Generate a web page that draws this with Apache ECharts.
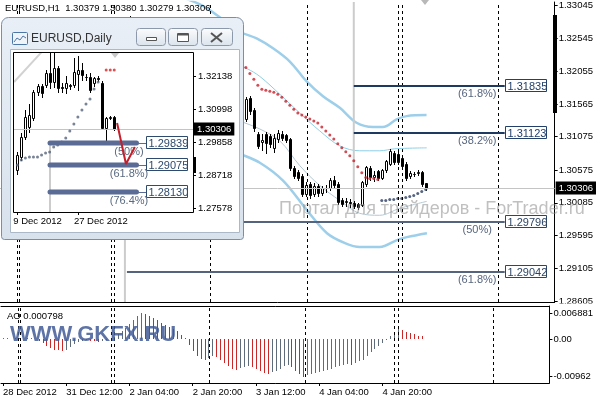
<!DOCTYPE html>
<html><head><meta charset="utf-8">
<script src="https://cdn.jsdelivr.net/npm/echarts@6/dist/echarts.min.js"></script>
<style>html,body{margin:0;padding:0;background:#fff}#c{width:596px;height:400px}</style>
</head><body><div id="c"></div>
<script>
// ===== DATA =====
const symbolH1 = 'EURUSD,H1';
const symbolD1 = 'EURUSD,Daily';
// H1 candles [open, close, low, high], bar 0 = 28 Dec 2012 20:00
const h1Candles = [
[1.3218,1.3221,1.3214,1.3225],[1.3221,1.3217,1.3212,1.3224],[1.3217,1.3219,1.3213,1.3223],[1.3219,1.3222,1.3215,1.3227],
[1.3222,1.3216,1.3211,1.3225],[1.3216,1.3220,1.3212,1.3224],[1.3220,1.3223,1.3216,1.3228],[1.3223,1.3219,1.3214,1.3226],
[1.3219,1.3212,1.3207,1.3222],[1.3212,1.3205,1.3200,1.3215],[1.3205,1.3199,1.3194,1.3208],[1.3199,1.3202,1.3193,1.3206],
[1.3202,1.3196,1.3191,1.3205],[1.3196,1.3193,1.3188,1.3200],[1.3193,1.3198,1.3189,1.3202],[1.3198,1.3195,1.3190,1.3201],
[1.3195,1.3203,1.3192,1.3207],[1.3203,1.3210,1.3200,1.3214],[1.3210,1.3213,1.3206,1.3217],[1.3213,1.3209,1.3205,1.3216],
[1.3209,1.3214,1.3206,1.3218],[1.3214,1.3211,1.3207,1.3217],[1.3211,1.3206,1.3202,1.3214],[1.3206,1.3209,1.3203,1.3212],
[1.3209,1.3204,1.3199,1.3211],[1.3204,1.3212,1.3201,1.3215],[1.3212,1.3218,1.3209,1.3221],[1.3218,1.3224,1.3215,1.3228],
[1.3224,1.3236,1.3221,1.3240],[1.3236,1.3248,1.3232,1.3252],[1.3248,1.3262,1.3245,1.3268],[1.3262,1.3270,1.3256,1.3286],
[1.3270,1.3281,1.3266,1.3288],[1.3281,1.3274,1.3268,1.3284],[1.3274,1.3279,1.3270,1.3283],[1.3279,1.3272,1.3266,1.3285],
[1.3272,1.3278,1.3268,1.3287],[1.3278,1.3266,1.3260,1.3281],[1.3266,1.3259,1.3252,1.3270],[1.3259,1.3262,1.3254,1.3267],
[1.3262,1.3250,1.3245,1.3265],[1.3250,1.3243,1.3238,1.3254],[1.3243,1.3246,1.3237,1.3250],[1.3246,1.3233,1.3228,1.3249],
[1.3233,1.3225,1.3219,1.3237],[1.3225,1.3229,1.3220,1.3232],[1.3229,1.3214,1.3210,1.3231],[1.3214,1.3202,1.3197,1.3218],
[1.3202,1.3196,1.3190,1.3206],[1.3196,1.3188,1.3183,1.3199],[1.3188,1.3191,1.3182,1.3195],[1.3191,1.3180,1.3175,1.3194],
[1.3180,1.3172,1.3166,1.3184],[1.3172,1.3176,1.3168,1.3180],[1.3176,1.3163,1.3158,1.3178],[1.3163,1.3155,1.3150,1.3167],
[1.3155,1.3158,1.3149,1.3162],[1.3158,1.3146,1.3141,1.3160],[1.3146,1.3139,1.3134,1.3150],[1.3139,1.3142,1.3133,1.3146],
[1.3142,1.3134,1.3129,1.3145],[1.3134,1.3164,1.3131,1.3167],[1.3165,1.3146,1.3142,1.3168],[1.3148,1.3121,1.3116,1.3151],
[1.3112,1.3094,1.3090,1.3115],[1.3099,1.3102,1.3087,1.3112],[1.3111,1.3098,1.3083,1.3115],[1.3108,1.3096,1.3092,1.3112],
[1.3091,1.3105,1.3085,1.3112],[1.3104,1.3113,1.3100,1.3118],[1.3112,1.3106,1.3102,1.3116],[1.3110,1.3103,1.3099,1.3112],
[1.3104,1.3061,1.3058,1.3106],[1.3061,1.3049,1.3045,1.3064],[1.3055,1.3046,1.3042,1.3058],[1.3049,1.3022,1.3018,1.3052],
[1.3022,1.3035,1.3019,1.3040],[1.3036,1.3020,1.3016,1.3040],[1.3022,1.3034,1.3018,1.3038],[1.3034,1.3023,1.3019,1.3037],
[1.3023,1.3030,1.3020,1.3033],[1.3030,1.3031,1.3025,1.3035],[1.3031,1.3042,1.3028,1.3045],[1.3042,1.3035,1.3031,1.3049],
[1.3037,1.3010,1.3006,1.3040],[1.3013,1.3006,1.3003,1.3016],[1.3009,1.3011,1.3004,1.3016],[1.3010,1.3008,1.3002,1.3014],
[1.3008,1.3003,1.3000,1.3011],[1.3006,1.3002,1.2999,1.3008],[1.3005,1.3039,1.3003,1.3041],[1.3037,1.3062,1.3034,1.3063],
[1.3060,1.3047,1.3043,1.3063],[1.3047,1.3050,1.3041,1.3056],[1.3056,1.3046,1.3042,1.3058],[1.3046,1.3057,1.3044,1.3059],
[1.3057,1.3071,1.3055,1.3073],[1.3067,1.3086,1.3065,1.3089],[1.3083,1.3069,1.3066,1.3086],[1.3081,1.3069,1.3066,1.3084],
[1.3076,1.3064,1.3060,1.3079],[1.3067,1.3046,1.3043,1.3069],[1.3049,1.3053,1.3046,1.3056],[1.3052,1.3052,1.3049,1.3054],
[1.3053,1.3055,1.3050,1.3058],[1.3054,1.3037,1.3034,1.3056],[1.30379,1.30306,1.30279,1.30380]
];
// Awesome Oscillator per H1 bar
const aoValues = [
0.0003,0.0004,0.0002,0.0003,0.0004,0.0002,0.0003,0.0004,0.0001,-0.0004,
-0.0010,-0.0017,-0.0022,-0.0026,-0.0028,-0.0029,-0.0026,-0.0019,-0.0012,-0.0006,
-0.0003,-0.0001,-0.0003,-0.0005,-0.0007,-0.0004,-0.0001,0.0002,0.0006,0.0013,
0.0021,0.0030,0.0040,0.0050,0.0060,0.006881,0.0066,0.0062,0.0057,0.0050,
0.0042,0.0037,0.0032,0.0027,0.0021,0.0012,0.0003,-0.0015,-0.0031,-0.0042,
-0.0050,-0.0054,-0.0049,-0.0043,-0.0046,-0.0054,-0.0062,-0.0070,-0.0076,-0.0079,
-0.0075,-0.0071,-0.0068,-0.0072,-0.0076,-0.0081,-0.0087,-0.0090,-0.0085,-0.0081,
-0.0076,-0.0069,-0.0066,-0.0071,-0.0081,-0.0089,-0.00962,-0.0093,-0.0090,-0.0087,
-0.0085,-0.0082,-0.0080,-0.0076,-0.0071,-0.0068,-0.0065,-0.0063,-0.0066,-0.0061,
-0.0057,-0.0052,-0.0043,-0.0033,-0.0024,-0.0016,-0.0009,-0.0002,0.0008,0.0018,
0.0026,0.0024,0.0020,0.0016,0.0013,0.0010,0.000798
];
// Bands [bar, price]
const bandUpperOuter = [[44,1.3318],[50,1.3304],[55,1.3284],[59.5,1.32645],[63.7,1.32545],[67.8,1.32397],[72,1.32199],[76.2,1.31902],[80.3,1.31679],[84.5,1.31506],[88.7,1.31283],[92.8,1.31219],[95.3,1.31219],[98.7,1.31333],[101.2,1.31382],[106.2,1.31397]];
const bandLowerOuter = [[58,1.3085],[59.5,1.30818],[64.5,1.30685],[70.3,1.30417],[76.3,1.29972],[81.3,1.29630],[85.8,1.29482],[89.5,1.29423],[94.5,1.29423],[98.8,1.29526],[101.3,1.29571],[106.3,1.29630]];
const bandUpperInner = [[58,1.3218],[61.25,1.32095],[64.5,1.31976],[69.5,1.31709],[74.5,1.31427],[79.5,1.31160],[84.5,1.30937],[89.5,1.30863],[94.5,1.30863],[98.25,1.30893],[106.25,1.30907]];
const bandLowerInner = [[58,1.3134],[59.5,1.31308],[64.5,1.31189],[69.5,1.31011],[74.5,1.30640],[79.5,1.30343],[84.5,1.30120],[89.5,1.29927],[94.5,1.29898],[99.5,1.30002],[106.25,1.30106]];
// Parabolic SAR
const sarRedStart = 61;
const sarRed = [1.32110,1.32021,1.31932,1.31843,1.31783,1.31769,1.31754,1.31739,1.31709,1.31665,1.31605,1.31546,1.31486,1.31427,1.31397,1.31368,1.31338,1.31308,1.31279,1.31219,1.31160,1.31100,1.31041,1.30967,1.30907,1.30848,1.30789,1.30714,1.30625,1.30536,1.30462,1.30447,1.30447,1.30432];
const sarBlueStart = 95;
const sarBlue = [1.30120,1.30120,1.30135,1.30135,1.30150,1.30150,1.30165,1.30180,1.30195,1.30224,1.30254,1.30284];
// Fibonacci levels (main)
const fibALevels = [1.31835, 1.31123];
const fibAPct = ['(61.8%)', '(38.2%)'];
const fibAStart = 88;
const fibBLevels = [1.29796, 1.29042];
const fibBPct = ['(50%)', '(61.8%)'];
const fibBStart = 31.25;
const fibEnd = 125.75;
const anchorLines = [[[88,1.2999],[88,1.3309]], [[30.75,1.2860],[30.75,1.3000]]];
// Period separators (bar positions)
const sepBars = [3.875, 4.375, 27.375, 28.125, 52.125, 76.375, 99.125, 100.125, 124.125];
// Axis ticks
const priceTicks = [1.33045,1.32545,1.32055,1.31565,1.31075,1.30575,1.30085,1.29595,1.29105,1.28605];
const aoTicks = [0.006881, 0, -0.00962];
const aoTickLabels = ['0.006881', '0.00', '-0.00962'];
const timeTickBars = [0, 16, 32, 48, 64, 80, 96];
const timeTickLabels = ['28 Dec 2012','31 Dec 12:00','2 Jan 04:00','2 Jan 20:00','3 Jan 12:00','4 Jan 04:00','4 Jan 20:00'];

// Daily inset: [open, close, low, high], day 0 = 9 Dec 2012
const d1Candles = [
[1.2889,1.2941,1.2875,1.2951],[1.2934,1.3003,1.2924,1.3017],[1.3003,1.3072,1.2996,1.3096],[1.3038,1.3079,1.3020,1.3117],
[1.3069,1.3158,1.3062,1.3165],[1.3158,1.3179,1.3148,1.3186],[1.3179,1.3155,1.3141,1.3186],[1.3183,1.3224,1.3176,1.3235],
[1.3224,1.3193,1.3172,1.3308],[1.3193,1.3241,1.3175,1.3300],[1.3241,1.3172,1.3160,1.3250],[1.3176,1.3172,1.3160,1.3190],
[1.3172,1.3190,1.3155,1.3215],[1.3181,1.3179,1.3170,1.3186],[1.3183,1.3228,1.3175,1.3276],[1.3221,1.3235,1.3165,1.3283],
[1.3234,1.3217,1.3200,1.3260],[1.3211,1.3209,1.3200,1.3220],[1.3210,1.3165,1.3160,1.3225],[1.3190,1.3207,1.3180,1.3210],
[1.3207,1.3204,1.3195,1.3215],[1.3190,1.3034,1.3030,1.3195],[1.3034,1.3069,1.2986,1.3072],[1.3069,1.3072,1.3065,1.3076],
[1.3072,1.30306,1.3027,1.3075]
];
const d1Sar = [1.29064,1.29236,1.29305,1.29340,1.29340,1.29340,1.29409,1.29478,1.29513,1.29685,1.29754,1.29858,1.29996,1.30238,1.30480,1.30721,1.30963,1.31171,1.31343,1.31689,1.31930];
const d1SarRedStart = 22;
const d1SarRed = [1.32345,1.32345,1.32345];
const d1FibLevels = [1.29839, 1.29075, 1.28130];
const d1FibPct = ['(50%)', '(61.8%)', '(76.4%)'];
const d1FibStart = 8.1, d1FibEnd = 29.5;
const d1Anchor = [[8.1,1.2740],[8.1,1.29858]];
const d1Trend = [[-0.8,1.3193],[6.0,1.3296]];
const d1Zigzag = [[24.7,1.30514],[26.9,1.29098],[29.1,1.29685]];
const d1SepDays = [19.1];
const d1PriceTicks = [1.32138,1.30998,1.29858,1.28718,1.27578];
const d1TickDays = [0, 15];
const d1TickLabels = ['9 Dec 2012', '27 Dec 2012'];

// ===== CHART =====
const FONT = 'Liberation Sans';
const RED = '#cc2626', GRAY = '#5e6b7b';
const lastH1 = h1Candles[h1Candles.length - 1];
const lastClose = lastH1[1];
const MAIN_W = 555, BAR_PX = 4;
const mainXMin = -0.5, mainXMax = -0.5 + MAIN_W / BAR_PX;
const D1_PX = 4.04, D1_LEFT = 14, D1_W = 179, D1_FIRST = 17.3;
const d1XMin = -(D1_FIRST - D1_LEFT) / D1_PX, d1XMax = d1XMin + D1_W / D1_PX;

function candleRenderer(params, api) {
  const i = api.value(0), o = api.value(1), c = api.value(2), l = api.value(3), h = api.value(4);
  const pO = api.coord([i, o]), pC = api.coord([i, c]), pL = api.coord([i, l]), pH = api.coord([i, h]);
  const x = Math.round(pO[0]) + 0.5;
  const top = Math.round(Math.min(pO[1], pC[1])) + 0.5;
  const bot = Math.round(Math.max(pO[1], pC[1])) + 0.5;
  const up = c >= o;
  return {type: 'group', children: [
    {type: 'line', shape: {x1: x, y1: Math.round(pH[1]), x2: x, y2: Math.round(pL[1]) + 1}, style: {stroke: '#000', lineWidth: 1}},
    {type: 'rect', shape: {x: x - 1, y: top, width: 2, height: Math.max(0, bot - top)}, style: {fill: up ? '#fff' : '#000', stroke: '#000', lineWidth: 1}}
  ]};
}
function aoRenderer(params, api) {
  const i = api.value(0), v = api.value(1);
  const k = params.dataIndex;
  const prev = k > 0 ? aoValues[k - 1] : v;
  const p0 = api.coord([i, 0]), p1 = api.coord([i, v]);
  const x = Math.round(p0[0]) + 0.5;
  return {type: 'line', shape: {x1: x, y1: Math.round(p0[1]), x2: x, y2: Math.round(p1[1])},
    style: {stroke: v < prev ? RED : GRAY, lineWidth: 1}};
}
function fibRenderer(cfg) {
  return function (params, api) {
    const lvl = api.value(1);
    const a = api.coord([api.value(0), lvl]);
    const b = api.coord([cfg.end, lvl]);
    const y = Math.round(a[1]);
    const bx = Math.round(b[0]) + cfg.boxGap;
    const ch = [{type: 'line', shape: {x1: a[0], y1: y, x2: b[0], y2: y},
      style: {stroke: cfg.lineColor, lineWidth: cfg.lineWidth, lineCap: cfg.cap || 'butt'}}];
    if (cfg.boxGap > 2) ch.push({type: 'line', shape: {x1: b[0], y1: y + 0.5, x2: bx, y2: y + 0.5}, style: {stroke: cfg.lineColor, lineWidth: 1}});
    ch.push({type: 'text', x: b[0] + cfg.pctDx, y: y + cfg.pctDy, z2: 5,
      style: {text: cfg.pct[params.dataIndex], font: '11px ' + FONT, fill: cfg.pctColor,
        align: 'center', verticalAlign: 'middle', textAlign: 'center', textVerticalAlign: 'middle'}});
    ch.push({type: 'rect', shape: {x: bx + 0.5, y: y - 6.5, width: 41, height: 12}, style: {fill: '#fff', stroke: cfg.boxColor, lineWidth: 1}});
    ch.push({type: 'text', x: bx + 2.5, y: y + 0.5, z2: 6,
      style: {text: lvl.toFixed(5), font: '11px ' + FONT, fill: cfg.boxColor, verticalAlign: 'middle', textVerticalAlign: 'middle'}});
    return {type: 'group', children: ch};
  };
}
const sepLine = {type: [3, 3], color: '#000', width: 1};
function lineS(data, color, width, xi, yi, z, smooth) {
  return {type: 'line', xAxisIndex: xi, yAxisIndex: yi, data: data, smooth: smooth || false, symbol: 'none',
    silent: true, z: z, lineStyle: {color: color, width: width}};
}
function bidLine(price) {
  return {yAxis: price, lineStyle: {color: '#c4c4c4', width: 1, type: 'solid'},
    label: {show: true, position: 'end', distance: 1, formatter: price.toFixed(5), color: '#fff',
      backgroundColor: '#000', padding: [2, 3, 1, 3], fontSize: 9.5, fontFamily: FONT}};
}

const series = [
  lineS(bandUpperOuter, '#9dcfea', 2.5, 0, 0, 2, 0.35),
  lineS(bandLowerOuter, '#9dcfea', 2.5, 0, 0, 2, 0.35),
  lineS(bandUpperInner, '#8ccfe6', 1, 0, 0, 2, 0.35),
  lineS(bandLowerInner, '#b3c7d2', 1, 0, 0, 2, 0.35),
  lineS(anchorLines[0], '#cccccc', 2, 0, 0, 2),
  lineS(anchorLines[1], '#cccccc', 2, 0, 0, 2),
  {type: 'custom', name: 'H1', xAxisIndex: 0, yAxisIndex: 0, z: 3, silent: true,
    data: h1Candles.map((r, i) => [i, r[0], r[1], r[2], r[3]]),
    encode: {x: 0, y: [1, 2, 3, 4]}, renderItem: candleRenderer,
    markLine: {silent: true, symbol: ['none', 'none'], animation: false, precision: 6,
      data: [bidLine(lastClose)].concat(sepBars.map(b => ({xAxis: b, lineStyle: sepLine, label: {show: false}})))}},
  {type: 'scatter', xAxisIndex: 0, yAxisIndex: 0, z: 4, silent: true, symbol: 'circle', symbolSize: 3,
    itemStyle: {color: '#c8202a'}, data: sarRed.map((p, k) => [sarRedStart + k, p])},
  {type: 'scatter', xAxisIndex: 0, yAxisIndex: 0, z: 4, silent: true, symbol: 'circle', symbolSize: 3,
    itemStyle: {color: '#2c3f66'}, data: sarBlue.map((p, k) => [sarBlueStart + k, p])},
  {type: 'custom', xAxisIndex: 0, yAxisIndex: 0, z: 5, silent: true,
    data: fibALevels.map(v => [fibAStart, v]), encode: {x: 0, y: 1},
    renderItem: fibRenderer({end: fibEnd, pct: fibAPct, lineColor: '#1f3a60', lineWidth: 2, pctColor: '#56657e',
      boxColor: '#22406a', pctDx: -27.5, pctDy: 8, boxGap: 0})},
  {type: 'custom', xAxisIndex: 0, yAxisIndex: 0, z: 5, silent: true,
    data: fibBLevels.map(v => [fibBStart, v]), encode: {x: 0, y: 1},
    renderItem: fibRenderer({end: fibEnd, pct: fibBPct, lineColor: '#55647e', lineWidth: 2, pctColor: '#56657e',
      boxColor: '#2f4564', pctDx: -27.5, pctDy: 8, boxGap: 0})},
  // AO
  {type: 'custom', xAxisIndex: 1, yAxisIndex: 1, z: 3, silent: true,
    data: aoValues.map((v, i) => [i, v]), encode: {x: 0, y: 1}, renderItem: aoRenderer,
    markLine: {silent: true, symbol: ['none', 'none'], animation: false, precision: 6,
      data: sepBars.map(b => ({xAxis: b, lineStyle: sepLine, label: {show: false}}))}},
  // Daily inset
  lineS(d1Anchor, '#cccccc', 2, 2, 2, 60),
  lineS(d1Trend, '#d2d2d2', 2, 2, 2, 60),
  {type: 'custom', name: 'D1', xAxisIndex: 2, yAxisIndex: 2, z: 61, silent: true, clip: true,
    data: d1Candles.map((r, i) => [i, r[0], r[1], r[2], r[3]]),
    encode: {x: 0, y: [1, 2, 3, 4]}, renderItem: candleRenderer,
    markLine: {silent: true, symbol: ['none', 'none'], animation: false, precision: 6,
      data: d1SepDays.map(d => ({xAxis: d, lineStyle: sepLine, label: {show: false}}))}},
  {type: 'scatter', xAxisIndex: 2, yAxisIndex: 2, z: 62, silent: true, symbol: 'circle', symbolSize: 3,
    itemStyle: {color: '#56647a'}, data: d1Sar.map((p, k) => [k, p])},
  {type: 'scatter', xAxisIndex: 2, yAxisIndex: 2, z: 62, silent: true, symbol: 'circle', symbolSize: 3,
    itemStyle: {color: '#d02828'}, data: d1SarRed.map((p, k) => [d1SarRedStart + k, p])},
  {type: 'custom', xAxisIndex: 2, yAxisIndex: 2, z: 63, silent: true,
    data: d1FibLevels.map(v => [d1FibStart, v]), encode: {x: 0, y: 1},
    renderItem: fibRenderer({end: d1FibEnd, pct: d1FibPct, lineColor: '#5a6b95', lineWidth: 5, cap: 'round',
      pctColor: '#5a6a80', boxColor: '#2e4a6c', pctDx: -7.5, pctDy: 8.5, boxGap: 10}),
    markLine: {silent: true, symbol: ['none', 'none'], animation: false, precision: 6, z: 62,
      data: [bidLine(d1Candles[d1Candles.length - 1][1])]}},
  lineS(d1Zigzag, '#c41f2b', 2, 2, 2, 64)
];

const axisText = {fontSize: 9.5, fontFamily: FONT, color: '#000'};
const option = {
  animation: false,
  textStyle: {fontFamily: FONT},
  grid: [
    {left: 0, top: 0, width: MAIN_W, height: 302},
    {left: 0, top: 306, width: MAIN_W, height: 77},
    {left: D1_LEFT, top: 53, width: D1_W, height: 159}
  ],
  xAxis: [
    {gridIndex: 0, type: 'value', min: mainXMin, max: mainXMax, position: 'bottom',
      axisLine: {show: true, onZero: false, lineStyle: {color: '#000', width: 1}},
      axisTick: {show: false}, axisLabel: {show: false}, splitLine: {show: false}},
    {gridIndex: 1, type: 'value', min: mainXMin, max: mainXMax, position: 'bottom',
      axisLine: {show: true, onZero: false, lineStyle: {color: '#000', width: 1}},
      axisTick: {show: true, customValues: timeTickBars, length: 3, lineStyle: {color: '#000'}},
      axisLabel: Object.assign({customValues: timeTickBars, margin: 4, align: 'left', hideOverlap: false,
        formatter: v => timeTickLabels[timeTickBars.indexOf(v)] || ''}, axisText),
      splitLine: {show: false}},
    {gridIndex: 2, type: 'value', min: d1XMin, max: d1XMax, position: 'bottom', z: 70,
      axisLine: {show: false, onZero: false},
      axisTick: {show: true, customValues: d1TickDays, length: 3, lineStyle: {color: '#000'}},
      axisLabel: Object.assign({customValues: d1TickDays, margin: 4, align: 'left', hideOverlap: false,
        padding: [0, 0, 0, -4], formatter: v => d1TickLabels[d1TickDays.indexOf(v)] || ''}, axisText),
      splitLine: {show: false}},
    {gridIndex: 1, type: 'value', min: mainXMin, max: mainXMax, position: 'top',
      axisLine: {show: true, onZero: false, lineStyle: {color: '#000', width: 1}},
      axisTick: {show: false}, axisLabel: {show: false}, splitLine: {show: false}}
  ],
  yAxis: [
    {gridIndex: 0, type: 'value', min: 1.2860, max: 1.3309, position: 'right',
      axisLine: {show: true, onZero: false, lineStyle: {color: '#000', width: 1}},
      axisTick: {show: true, customValues: priceTicks, length: 3, lineStyle: {color: '#000'}},
      axisLabel: Object.assign({customValues: priceTicks, margin: 4, hideOverlap: false,
        formatter: v => v.toFixed(5)}, axisText),
      splitLine: {show: false}},
    {gridIndex: 1, type: 'value', min: -0.0113, max: 0.0087, position: 'right',
      axisLine: {show: true, onZero: false, lineStyle: {color: '#000', width: 1}},
      axisTick: {show: true, customValues: aoTicks, length: 3, lineStyle: {color: '#000'}},
      axisLabel: Object.assign({customValues: aoTicks, margin: 4, hideOverlap: false,
        formatter: v => aoTickLabels[aoTicks.indexOf(v)] || ''}, axisText),
      splitLine: {show: false}},
    {gridIndex: 2, type: 'value', min: 1.27440, max: 1.32932, position: 'right', z: 70,
      axisLine: {show: false, onZero: false},
      axisTick: {show: true, customValues: d1PriceTicks, length: 3, lineStyle: {color: '#000'}},
      axisLabel: Object.assign({customValues: d1PriceTicks, margin: 5, hideOverlap: false,
        formatter: v => v.toFixed(5)}, axisText),
      splitLine: {show: false}}
  ],
  series: series,
  graphic: [
    {type: 'text', x: 5, y: 8, z: 100, style: {text: symbolH1 + '  ' + [lastH1[0], lastH1[3], lastH1[2], lastH1[1]].map(v => v.toFixed(5)).join(' '),
      font: '9.5px ' + FONT, fill: '#000', verticalAlign: 'middle', textVerticalAlign: 'middle'}},
    {type: 'polygon', z: 100, shape: {points: [[421, 0], [429, 0], [425, 5]]}, style: {fill: '#b8b8b8'}},
    {type: 'rect', z: 100, shape: {x: 553, y: 15, width: 4, height: 98}, style: {fill: '#000'}},
    {type: 'rect', z: 100, shape: {x: 557, y: 303.5, width: 39, height: 2.5}, style: {fill: '#fff'}},
    {type: 'text', x: 279, y: 209, z: 100, style: {text: 'Портал для трейдеров - ForTrader.ru', font: '18px ' + FONT,
      fill: 'rgba(140,140,140,0.55)', verticalAlign: 'middle', textVerticalAlign: 'middle'}},
    {type: 'text', x: 7, y: 316, z: 11, style: {text: 'AO ' + aoValues[aoValues.length - 1].toFixed(6), font: '9.5px ' + FONT,
      fill: '#000', verticalAlign: 'middle', textVerticalAlign: 'middle'}},
    {type: 'text', x: 10, y: 335, z: 10, style: {text: 'WWW.GKFX.RU', font: 'bold 22px ' + FONT,
      fill: 'rgba(66,92,150,0.85)', verticalAlign: 'middle', textVerticalAlign: 'middle'}},
    // inset window chrome
    {type: 'rect', z: 50, shape: {x: 1.5, y: 17.5, width: 242, height: 222, r: [7, 7, 3, 3]},
      style: {fill: {type: 'linear', x: 0, y: 0, x2: 0, y2: 1, colorStops: [{offset: 0, color: '#e9eff6'}, {offset: 1, color: '#d8e2ed'}]},
        stroke: '#7d8da2', lineWidth: 1}},
    {type: 'rect', z: 51, shape: {x: 10.5, y: 49.5, width: 229, height: 183}, style: {fill: '#fff', stroke: '#aab8c8'}},
    {type: 'rect', z: 52, shape: {x: 12.5, y: 32.5, width: 15, height: 12, r: 1}, style: {fill: '#eef4fa', stroke: '#4d76a6'}},
    {type: 'polyline', z: 53, shape: {points: [[14, 42], [17, 38], [20, 40], [23, 36], [26, 38]]}, style: {stroke: '#4d76a6', fill: null, lineWidth: 1}},
    {type: 'text', x: 31, y: 38.5, z: 52, style: {text: symbolD1, font: '12px ' + FONT, fill: '#333',
      verticalAlign: 'middle', textVerticalAlign: 'middle'}},
    {type: 'rect', z: 52, shape: {x: 136.5, y: 28.5, width: 29, height: 17, r: 3},
      style: {fill: {type: 'linear', x: 0, y: 0, x2: 0, y2: 1, colorStops: [{offset: 0, color: '#fbfcfd'}, {offset: 1, color: '#dbe3ec'}]}, stroke: '#8c99aa'}},
    {type: 'rect', z: 52, shape: {x: 168.5, y: 28.5, width: 29, height: 17, r: 3},
      style: {fill: {type: 'linear', x: 0, y: 0, x2: 0, y2: 1, colorStops: [{offset: 0, color: '#fbfcfd'}, {offset: 1, color: '#dbe3ec'}]}, stroke: '#8c99aa'}},
    {type: 'rect', z: 52, shape: {x: 201.5, y: 28.5, width: 31, height: 17, r: 3},
      style: {fill: {type: 'linear', x: 0, y: 0, x2: 0, y2: 1, colorStops: [{offset: 0, color: '#fbfcfd'}, {offset: 1, color: '#dbe3ec'}]}, stroke: '#8c99aa'}},
    {type: 'rect', z: 53, shape: {x: 146.5, y: 37.5, width: 10, height: 3}, style: {fill: '#fff', stroke: '#555'}},
    {type: 'rect', z: 53, shape: {x: 177.5, y: 33.5, width: 11, height: 8}, style: {fill: '#fff', stroke: '#555', lineWidth: 1}},
    {type: 'line', z: 53, shape: {x1: 178, y1: 34.5, x2: 188, y2: 34.5}, style: {stroke: '#555', lineWidth: 2}},
    {type: 'line', z: 53, shape: {x1: 211, y1: 33, x2: 222, y2: 42}, style: {stroke: '#555', lineWidth: 2}},
    {type: 'line', z: 53, shape: {x1: 222, y1: 33, x2: 211, y2: 42}, style: {stroke: '#555', lineWidth: 2}},
    {type: 'rect', z: 75, shape: {x: 13.5, y: 52.5, width: 180, height: 160}, style: {fill: null, stroke: '#000', lineWidth: 1}},
    {type: 'polygon', z: 74, shape: {points: [[111, 53], [119, 53], [115, 58]]}, style: {fill: '#c8c8c8'}},
    {type: 'rect', z: 76, shape: {x: 193, y: 157, width: 3, height: 16}, style: {fill: '#000'}}
  ]
};
const chart = echarts.init(document.getElementById('c'), null, {renderer: 'canvas'});
chart.setOption(option);
</script></body></html>
